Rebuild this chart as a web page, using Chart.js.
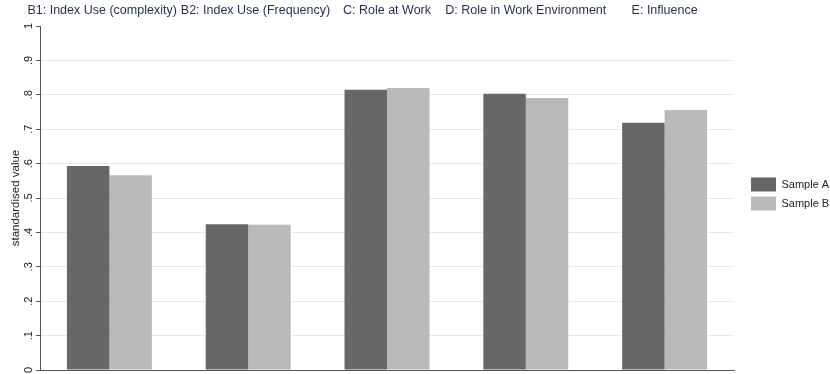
<!DOCTYPE html>
<html>
<head>
<meta charset="utf-8">
<script src="https://cdn.jsdelivr.net/npm/chart.js@4.4.1/dist/chart.umd.min.js"></script>
<style>
  html, body { margin: 0; padding: 0; background: #fff; }
  #wrap { position: relative; width: 830px; height: 374px; }
</style>
</head>
<body>
<div id="wrap"><canvas id="chart"></canvas></div>
<script>
// categories, series and tick labels
const categories = [
    'B1: Index Use (complexity)',
    'B2: Index Use (Frequency)',
    'C: Role at Work',
    'D: Role in Work Environment',
    'E: Influence'
];
const sampleA = [0.593, 0.424, 0.815, 0.803, 0.719];
const sampleB = [0.566, 0.422, 0.820, 0.791, 0.756];
const tickLabels = ['0', '.1', '.2', '.3', '.4', '.5', '.6', '.7', '.8', '.9', '1'];

const FONT = '"Liberation Sans", Arial, Helvetica, sans-serif';

// group titles above the plot; overlapping neighbours are spread apart
const groupTitles = {
    id: 'groupTitles',
    afterDraw(chart) {
        const { ctx } = chart;
        const x = chart.scales.x;
        ctx.save();
        ctx.font = '12.5px ' + FONT;
        ctx.fillStyle = '#1f2d52';
        ctx.textBaseline = 'middle';
        const items = categories.map((label, i) => {
            const w = ctx.measureText(label).width;
            return { label, w, left: x.getPixelForValue(i) - w / 2 };
        });
        for (let i = 1; i < items.length; i++) {
            const prev = items[i - 1];
            const overlap = prev.left + prev.w + 4 - items[i].left;
            if (overlap > 0) {
                prev.left -= overlap / 2;
                items[i].left += overlap / 2;
            }
        }
        items.forEach(it => ctx.fillText(it.label, it.left, 11));
        ctx.restore();
    }
};

// narrower legend box so it sits further right, and a bit higher
const legendFit = {
    id: 'legendFit',
    beforeInit(chart) {
        const fit = chart.legend.fit;
        chart.legend.fit = function () {
            fit.call(this);
            this.width = 84;
        };
    },
    afterLayout(chart) {
        chart.legend.top -= 4;
        chart.legend.bottom -= 4;
    }
};

new Chart(document.getElementById('chart'), {
    type: 'bar',
    data: {
        labels: categories,
        datasets: [
            { label: 'Sample A', data: sampleA, backgroundColor: '#676767' },
            { label: 'Sample B', data: sampleB, backgroundColor: '#b9b9b9' }
        ]
    },
    options: {
        responsive: true,
        maintainAspectRatio: false,
        animation: false,
        events: [],
        categoryPercentage: 0.612,
        barPercentage: 1,
        layout: { padding: { top: 26, bottom: 4, left: 0, right: 0 } },
        plugins: {
            legend: {
                position: 'right',
                labels: {
                    boxWidth: 25,
                    boxHeight: 14,
                    padding: 5,
                    color: '#222',
                    font: { family: FONT, size: 11 }
                }
            },
            tooltip: { enabled: false }
        },
        scales: {
            x: {
                grid: { display: false, drawTicks: false },
                ticks: { display: false },
                border: { color: '#555', width: 1 }
            },
            y: {
                min: 0,
                max: 1,
                ticks: {
                    stepSize: 0.1,
                    minRotation: 90,
                    maxRotation: 90,
                    crossAlign: 'center',
                    padding: 2,
                    color: '#222',
                    font: { family: FONT, size: 11, lineHeight: 1 },
                    callback: (v, i) => tickLabels[i]
                },
                grid: {
                    color: (c) => (c.tick && c.tick.value >= 1) ? 'rgba(0,0,0,0)' : '#e9e9e9',
                    tickColor: '#555',
                    tickLength: 4
                },
                border: { color: '#555', width: 1 },
                title: {
                    display: true,
                    text: 'standardised value',
                    color: '#222',
                    font: { family: FONT, size: 11.5 },
                    padding: { top: 8.6, bottom: 0 }
                },
                afterFit: (s) => {
                    s.width = 40;
                    s.paddingTop = 0;
                    s.paddingBottom = 0;
                }
            },
            gap: {
                type: 'linear',
                position: 'right',
                grid: { display: false, drawTicks: false },
                ticks: { display: false },
                border: { display: false },
                afterFit: (s) => { s.width = 12; }
            }
        }
    },
    plugins: [groupTitles, legendFit]
});
</script>
</body>
</html>
